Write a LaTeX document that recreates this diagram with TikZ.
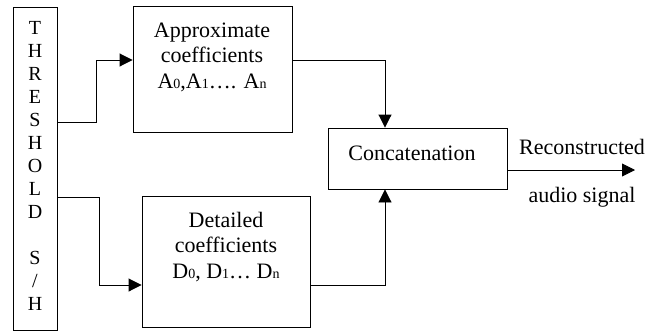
\documentclass[tikz,border=0pt]{standalone}
\usepackage{fontspec}
\setmainfont{Liberation Serif}
\usetikzlibrary{arrows.meta}
\newcommand{\lowsub}[1]{{\fontsize{14}{14}\selectfont #1}}
\begin{document}
\begin{tikzpicture}[x=1pt,y=-1pt,
  box/.style={draw, line width=0.9pt, inner sep=0pt},
  txt/.style={font=\fontsize{22}{25.5}\selectfont, align=center, inner sep=0pt},
  conn/.style={line width=0.9pt},
  arr/.style={line width=0.9pt, -{Triangle[length=13pt,width=13pt]}}]
\useasboundingbox (0,0) rectangle (648,335);
% boxes
\node[box, minimum width=44pt, minimum height=323pt] (thr) at (35,168.5) {};
\node[txt, font=\fontsize{20}{23}\selectfont] (thrtxt) at (35,166) {T\\H\\R\\E\\S\\H\\O\\L\\D\\\mbox{}\\S\\/\\H};
\node[box, minimum width=159pt, minimum height=126pt] (appr) at (212.5,69) {};
\node[txt] (apprtxt) at (212,57) {Approximate\\coefficients\\A\lowsub{0},A\lowsub{1}…. A\lowsub{n}};
\node[box, minimum width=168pt, minimum height=131pt] (det) at (226,261.5) {};
\node[txt] (dettxt) at (226,247) {Detailed\\coefficients\\D\lowsub{0}, D\lowsub{1}… D\lowsub{n}};
\node[box, minimum width=179pt, minimum height=61pt] (cat) at (417.5,158.5) {};
\node[txt] (cattxt) at (412,153) {Concatenation};
\node[txt] (rec) at (582,147) {Reconstructed};
\node[txt] (aud) at (582,197) {audio signal};
% helper coordinates
\coordinate (ya) at (0,60);
\coordinate (yt1) at (0,122);
\coordinate (yt2) at (0,197);
\coordinate (yd) at (0,285);
\coordinate (yo) at (0,170);
\coordinate (xc) at (385,0);
\coordinate (xa) at (96,0);
\coordinate (xd) at (99,0);
\coordinate (out) at (635,170);
% connectors
\draw[arr] (thr.east |- yt1) -| (xa |- ya) -- (appr.west |- ya);
\draw[arr] (thr.east |- yt2) -| (xd |- yd) -- (det.west |- yd);
\draw[arr] (appr.east |- ya) -| (cat.north -| xc);
\draw[arr] (det.east |- yd) -| (cat.south -| xc);
\draw[arr] (cat.east |- yo) -- (out);
\end{tikzpicture}
\end{document}
